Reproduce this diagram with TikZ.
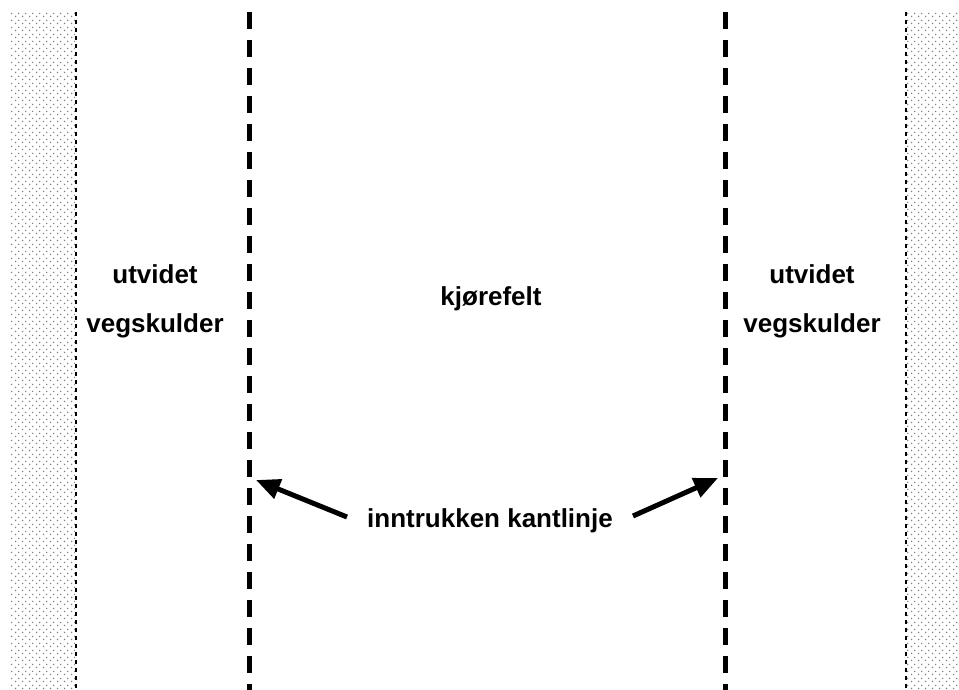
\documentclass[tikz,border=0pt]{standalone}
\usepackage{fontspec}
\setmainfont{Liberation Sans}
\usetikzlibrary{arrows.meta,patterns}
\pgfdeclarepatternformonly{shoulderdots}{\pgfpointorigin}{\pgfpoint{7pt}{7pt}}{\pgfpoint{7pt}{7pt}}{%
  \pgfpathcircle{\pgfpoint{1.75pt}{1.75pt}}{0.9pt}%
  \pgfpathcircle{\pgfpoint{5.25pt}{5.25pt}}{0.9pt}%
  \pgfusepath{fill}}
\tikzset{
  lbl/.style={font=\bfseries\fontsize{26}{30}\selectfont, anchor=base, inner sep=0pt},
  laneline/.style={line width=5pt, dash pattern=on 17pt off 11pt},
  shoulder/.style={pattern=shoulderdots, pattern color=gray},
  shoulderedge/.style={line width=2pt, dash pattern=on 4pt off 4pt},
  pointer/.style={line width=5pt, -{Triangle[length=24pt,width=20pt]}}
}
\begin{document}
\begin{tikzpicture}[x=1pt,y=-1pt]
\useasboundingbox (0,0) rectangle (959,690);
% shoulders
\fill[shoulder] (10,12) rectangle (75,690);
\draw[shoulderedge] (76,12) -- (76,690);
\fill[shoulder] (907,12) rectangle (959,690);
\draw[shoulderedge] (906,12) -- (906,690);
% lane lines
\coordinate (l1) at (249,12);
\coordinate (l2) at (249,690);
\coordinate (r1) at (725,12);
\coordinate (r2) at (725,690);
\draw[laneline] (l1) -- (l2);
\draw[laneline] (r1) -- (r2);
% labels
\node[lbl] (lu) at (155,283) {utvidet};
\node[lbl] (lv) at (155,332) {vegskulder};
\node[lbl] (ru) at (812,283) {utvidet};
\node[lbl] (rv) at (812,332) {vegskulder};
\node[lbl] (kf) at (491,305) {kjørefelt};
\node[lbl] (kl) at (490,527) {inntrukken kantlinje};
% arrows
\coordinate (ltail) at (347,517);
\coordinate (ltip) at (256,480);
\coordinate (rtail) at (633,516);
\coordinate (rtip) at (718,478);
\draw[pointer] (ltail) -- (ltip);
\draw[pointer] (rtail) -- (rtip);
\end{tikzpicture}
\end{document}
